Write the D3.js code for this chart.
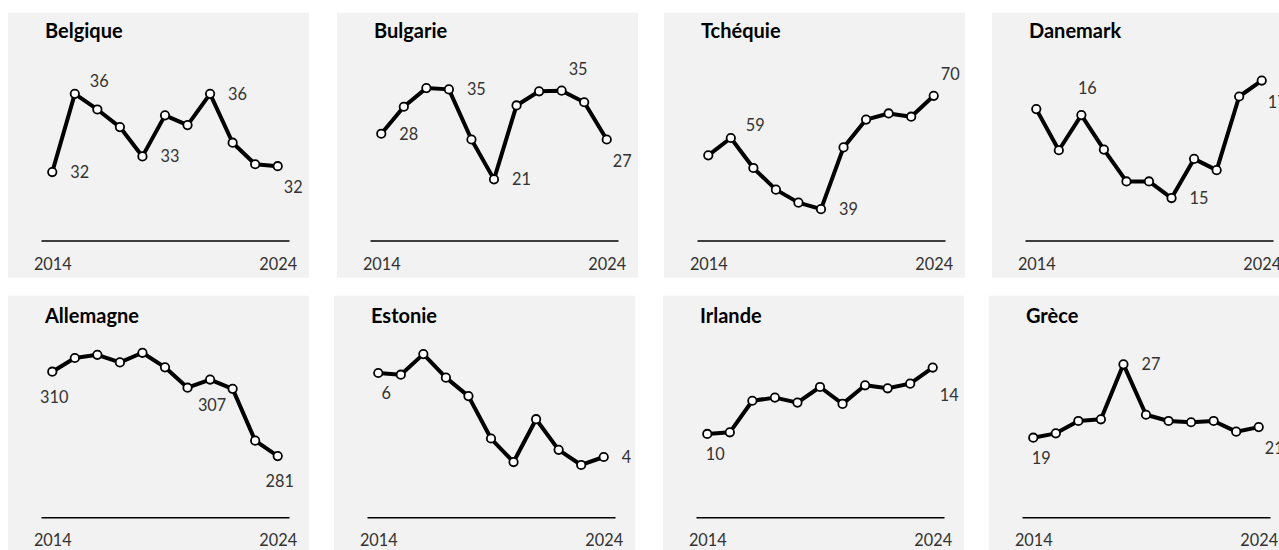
<!DOCTYPE html>
<html>
<head>
	<meta charset="utf-8">
	<script src="https://cdn.jsdelivr.net/npm/d3@7"></script>
	<title>Small multiples 2014-2024</title>
	<style>
		body { margin: 0; background: #fff; }
		text { font-family: Lato, "Open Sans", sans-serif; }
	</style>
</head>
<body>
	<script type="text/javascript">

	// data
	var years = ["2014", "2015", "2016", "2017", "2018", "2019", "2020", "2021", "2022", "2023", "2024"];
	var tickYears = ["2014", "2024"];
	var countries = ["Belgique", "Bulgarie", "Tchéquie", "Danemark", "Allemagne", "Estonie", "Irlande", "Grèce"];

	var belgique  = [32.0, 36.0, 35.2, 34.3, 32.8, 34.9, 34.4, 36.0, 33.5, 32.4, 32.3];
	var bulgarie  = [28.1, 32.3, 35.2, 35.0, 27.2, 21.0, 32.5, 34.7, 34.8, 33.0, 27.2];
	var tchequie  = [53.9, 58.7, 50.4, 44.4, 40.8, 39.0, 56.1, 63.8, 65.5, 64.6, 70.4];
	var danemark  = [16.34, 15.72, 16.25, 15.73, 15.25, 15.25, 15.0, 15.59, 15.42, 16.53, 16.77];
	var allemagne = [310, 314.7, 315.8, 313.2, 316.5, 311.5, 304.5, 307.3, 304.1, 286.3, 281.0];
	var estonie   = [6.0, 5.96, 6.45, 5.89, 5.45, 4.44, 3.88, 4.90, 4.17, 3.81, 4.0];
	var irlande   = [10.0, 10.1, 12.0, 12.19, 11.89, 12.83, 11.81, 12.93, 12.75, 13.03, 14.0];
	var grece     = [19.45, 19.89, 21.14, 21.31, 26.86, 21.77, 21.14, 21.01, 21.14, 20.06, 20.52];

	var series = [belgique, bulgarie, tchequie, danemark, allemagne, estonie, irlande, grece];

	// value axis bounds of each small chart
	var yBounds = [[28.5, 37.73], [11.49, 39.57], [30.31, 80.31], [14.36, 17.08],
		[259.97, 320.89], [2.564, 6.786], [4.98, 15.66], [11.41, 29.32]];

	// which points carry a value label, and where it sits
	var labelSpots = [
		[[0, "r"], [1, "ar"], [4, "r"], [7, "r"], [10, "br"]],
		[[0, "r"], [3, "r"], [5, "r"], [8, "ur"], [10, "br"]],
		[[1, "ar"], [5, "r"], [10, "ur"]],
		[[2, "a"], [6, "r"], [10, "br"]],
		[[0, "b"], [7, "b"], [10, "b"]],
		[[0, "bn"], [10, "r"]],
		[[0, "bn"], [10, "brf"]],
		[[0, "bn"], [4, "r"], [10, "br"]]
	];

	// layout
	var W = 1279, H = 550;
	var panelW = 301, panelH = 265;
	var rows = [
		{ top: 12.7, lefts: [8, 337, 664, 992], axisY: 227.8, yTop: 47.3, titleY: 25.6 },
		{ top: 295.7, lefts: [8, 334, 663, 989], axisY: 221.6, yTop: 44.3, titleY: 27 }
	];
	var place = {
		r:   ["start", 18, 6],
		ar:  ["start", 15, -7],
		ur:  ["start", 7, -16],
		br:  ["start", 6, 27],
		brf: ["start", 7, 33],
		a:   ["middle", 6, -21],
		b:   ["middle", 2, 31],
		bn:  ["middle", 8, 26]
	};

	var svg = d3.select("body")
		.append("svg")
		.attr("width", W)
		.attr("height", H);

	var fmt = d3.format(".0f");

	var x = d3.scalePoint()
		.domain(years)
		.range([33, 281])
		.padding(0.5);

	countries.forEach(function(name, i) {
		var row = rows[Math.floor(i / 4)];
		var col = i % 4;
		var vals = series[i];

		var g = svg.append("g")
			.attr("transform", "translate(" + row.lefts[col] + "," + row.top + ")");

		g.append("rect")
			.attr("width", panelW)
			.attr("height", panelH)
			.attr("fill", "#f2f2f2");

		g.append("text")
			.attr("x", 37)
			.attr("y", row.titleY)
			.attr("font-size", 20)
			.attr("font-weight", "bold")
			.attr("fill", "#000")
			.text(name);

		var y = d3.scaleLinear()
			.domain(yBounds[i])
			.range([row.axisY, row.yTop]);

		var axis = g.append("g")
			.attr("transform", "translate(0," + row.axisY + ")")
			.call(d3.axisBottom(x).tickValues(tickYears).tickSize(0).tickSizeOuter(0));
		axis.select(".domain")
			.attr("stroke", "#000")
			.attr("stroke-width", 1.6);
		axis.selectAll("text")
			.attr("y", 29)
			.attr("dy", 0)
			.attr("font-size", 16.3)
			.attr("font-family", "Lato, sans-serif")
			.attr("fill", "#333");

		var pts = vals.map(function(v, k) { return { year: years[k], value: v }; });

		var line = d3.line()
			.x(function(d) { return x(d.year); })
			.y(function(d) { return y(d.value); });

		g.append("path")
			.datum(pts)
			.attr("d", line)
			.attr("fill", "none")
			.attr("stroke", "#000")
			.attr("stroke-width", 4)
			.attr("stroke-linejoin", "round");

		g.selectAll("circle")
			.data(pts)
			.enter()
			.append("circle")
			.attr("cx", function(d) { return x(d.year); })
			.attr("cy", function(d) { return y(d.value); })
			.attr("r", 4.2)
			.attr("fill", "#fff")
			.attr("stroke", "#000")
			.attr("stroke-width", 1.8);

		g.selectAll("text.lbl")
			.data(labelSpots[i])
			.enter()
			.append("text")
			.attr("class", "lbl")
			.attr("x", function(d) { return x(years[d[0]]) + place[d[1]][1]; })
			.attr("y", function(d) { return y(vals[d[0]]) + place[d[1]][2]; })
			.attr("text-anchor", function(d) { return place[d[1]][0]; })
			.attr("font-size", 16.3)
			.attr("fill", "#333")
			.text(function(d) { return fmt(vals[d[0]]); });
	});

	</script>
</body>
</html>
